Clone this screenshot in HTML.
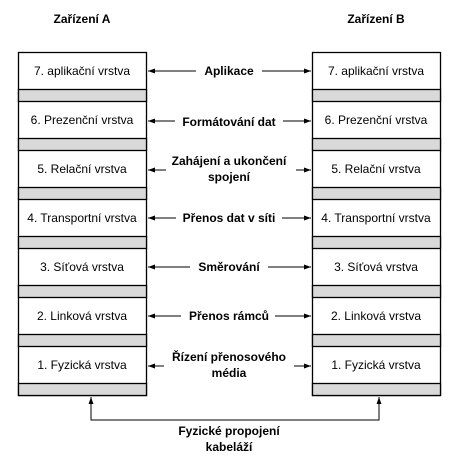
<!DOCTYPE html>
<html><head><meta charset="utf-8"><style>
html,body{margin:0;padding:0;background:#fff;}
svg{display:block;font-family:"Liberation Sans",sans-serif;}
</style></head><body>
<svg width="476" height="457" viewBox="0 0 476 457" xmlns="http://www.w3.org/2000/svg">
<defs>
<marker id="a" viewBox="0 0 10 10" refX="10" refY="5" markerWidth="7" markerHeight="7" orient="auto-start-reverse"><path d="M0,1.5 L10,5 L0,8.5 z" fill="#000"/></marker>
</defs>
<g font-size="12" font-weight="bold" text-anchor="middle" fill="#000">
<text x="82" y="23">Zařízení A</text>
<text x="376" y="23">Zařízení B</text>
</g>
<g stroke="#000" stroke-width="1.3">
<!-- left stack -->
<g id="stack">
<rect x="18.5" y="52.5" width="128" height="343" fill="#fff"/>
<rect x="18.5" y="89.5" width="128" height="12" fill="#d9d9d9"/>
<rect x="18.5" y="138.5" width="128" height="12" fill="#d9d9d9"/>
<rect x="18.5" y="187.5" width="128" height="12" fill="#d9d9d9"/>
<rect x="18.5" y="236.5" width="128" height="12" fill="#d9d9d9"/>
<rect x="18.5" y="285.5" width="128" height="12" fill="#d9d9d9"/>
<rect x="18.5" y="334.5" width="128" height="12" fill="#d9d9d9"/>
<rect x="18.5" y="383.5" width="128" height="12" fill="#d9d9d9"/>
</g>
<use href="#stack" x="294"/>
</g>
<g font-size="12" text-anchor="middle" fill="#000">
<text x="82" y="75">7. aplikační vrstva</text>
<text x="82" y="124">6. Prezenční vrstva</text>
<text x="82" y="173">5. Relační vrstva</text>
<text x="82" y="222">4. Transportní vrstva</text>
<text x="82" y="271">3. Síťová vrstva</text>
<text x="82" y="320">2. Linková vrstva</text>
<text x="82" y="369">1. Fyzická vrstva</text>
<text x="376" y="75">7. aplikační vrstva</text>
<text x="376" y="124">6. Prezenční vrstva</text>
<text x="376" y="173">5. Relační vrstva</text>
<text x="376" y="222">4. Transportní vrstva</text>
<text x="376" y="271">3. Síťová vrstva</text>
<text x="376" y="320">2. Linková vrstva</text>
<text x="376" y="369">1. Fyzická vrstva</text>
</g>
<g font-size="12" font-weight="bold" text-anchor="middle" fill="#000">
<text x="229" y="75">Aplikace</text>
<text x="229" y="126">Formátování dat</text>
<text x="229" y="165">Zahájení a ukončení</text>
<text x="229" y="181">spojení</text>
<text x="229" y="222">Přenos dat v síti</text>
<text x="229" y="271">Směrování</text>
<text x="229" y="320">Přenos rámců</text>
<text x="229" y="361">Řízení přenosového</text>
<text x="229" y="377">média</text>
<text x="229" y="435">Fyzické propojení</text>
<text x="229" y="451">kabeláží</text>
</g>
<g stroke="#000" stroke-width="1" fill="none" marker-end="url(#a)">
<line x1="196" y1="71" x2="148" y2="71"/><line x1="262" y1="71" x2="311" y2="71"/>
<line x1="175" y1="121" x2="148" y2="121"/><line x1="283" y1="121" x2="311" y2="121"/>
<line x1="166" y1="170" x2="148" y2="170"/><line x1="296" y1="170" x2="311" y2="170"/>
<line x1="176" y1="218" x2="148" y2="218"/><line x1="282" y1="218" x2="311" y2="218"/>
<line x1="190" y1="267" x2="148" y2="267"/><line x1="268" y1="267" x2="311" y2="267"/>
<line x1="181" y1="316" x2="148" y2="316"/><line x1="275" y1="316" x2="311" y2="316"/>
<line x1="164" y1="366" x2="148" y2="366"/><line x1="294" y1="366" x2="311" y2="366"/>
<polyline points="200,420 91,420 91,397"/>
<polyline points="200,420 379,420 379,397"/>
</g>
</svg>
</body></html>
